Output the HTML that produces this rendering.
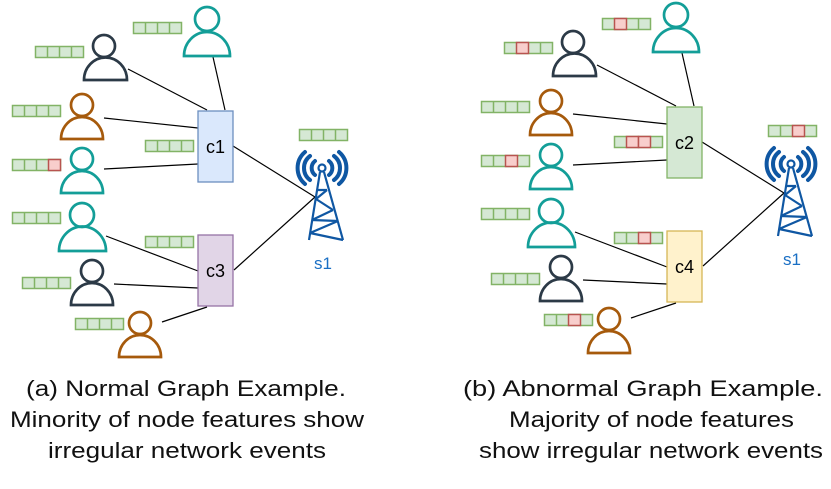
<!DOCTYPE html>
<html><head><meta charset="utf-8"><style>
html,body{margin:0;padding:0;background:#fff;}
svg{display:block;}
text{font-family:"Liberation Sans",sans-serif;}
</style></head><body>
<svg width="831" height="489" viewBox="0 0 831 489" xmlns="http://www.w3.org/2000/svg">
<defs>
<g id="tower" fill="none" stroke="#0f57a3">
 <circle cx="322" cy="168" r="3.5" stroke-width="2.2"/>
 <g stroke-width="4" stroke-linecap="round">
  <path d="M315,161 A9,9 0 0 0 315,175"/>
  <path d="M329,161 A9,9 0 0 1 329,175"/>
  <path d="M310,156 A15,15 0 0 0 310,180"/>
  <path d="M334,156 A15,15 0 0 1 334,180"/>
  <path d="M305,152 A21,21 0 0 0 305,184"/>
  <path d="M339,152 A21,21 0 0 1 339,184"/>
 </g>
 <g stroke-width="2.2">
  <path d="M320,172 L309,240 M324,172 L343,240"/>
  <path d="M318,190 L327,190 M316,199 L333,210 M327,190 L316,199 M312,220 L333,210 M312,220 L338,221 M310,233 L338,221 M310,233 L343,240"/>
 </g>
</g>
</defs>

<g>
<g stroke="#000" stroke-width="1.2">
 <line x1="128" y1="69" x2="207" y2="110"/>
 <line x1="213" y1="57" x2="225" y2="110"/>
 <line x1="104" y1="118" x2="198" y2="128"/>
 <line x1="104" y1="169" x2="198" y2="164"/>
 <line x1="106" y1="236" x2="198" y2="271"/>
 <line x1="114" y1="284" x2="198" y2="288"/>
 <line x1="162" y1="322" x2="207" y2="307"/>
 <line x1="233" y1="146" x2="315" y2="197"/>
 <line x1="234" y1="270" x2="315" y2="197"/>
</g>
<g fill="none" stroke-width="2.7">
 <g stroke="#139e98"><circle cx="207" cy="19" r="12"/><path d="M184,56 A23,24 0 0 1 230,56 Z"/></g>
 <g stroke="#2c3a47"><circle cx="104" cy="46" r="11"/><path d="M84,80 A21,22 0 0 1 127,80 Z"/></g>
 <g stroke="#a65a0c"><circle cx="82" cy="105" r="11"/><path d="M61,139 A21,22 0 0 1 103,139 Z"/></g>
 <g stroke="#139e98"><circle cx="82" cy="159" r="11"/><path d="M61,193 A21,22 0 0 1 103,193 Z"/></g>
 <g stroke="#139e98"><circle cx="82" cy="215" r="12"/><path d="M59,251 A23,24 0 0 1 106,251 Z"/></g>
 <g stroke="#2c3a47"><circle cx="92" cy="271" r="11"/><path d="M71,305 A21,22 0 0 1 113,305 Z"/></g>
 <g stroke="#a65a0c"><circle cx="140" cy="323" r="11"/><path d="M119,357 A21,22 0 0 1 161,357 Z"/></g>
</g>
<rect x="198" y="111" width="35" height="71" fill="#dae8fc" stroke="#6c8ebf" stroke-width="1.3"/>
<text x="215.5" y="153" font-size="18" text-anchor="middle">c1</text>
<rect x="198" y="235" width="35" height="71" fill="#e1d5e7" stroke="#9673a6" stroke-width="1.3"/>
<text x="215.5" y="277" font-size="18" text-anchor="middle">c3</text>
</g>

<g stroke-width="1.5">
<g fill="#d5e8d4" stroke="#82b366">
 <path d="M133.5,22.5h48v11h-48z M145.5,22.5v11 M157.5,22.5v11 M169.5,22.5v11"/>
 <path d="M35.5,46.5h48v11h-48z M47.5,46.5v11 M59.5,46.5v11 M71.5,46.5v11"/>
 <path d="M12.5,105.5h48v11h-48z M24.5,105.5v11 M36.5,105.5v11 M48.5,105.5v11"/>
 <path d="M145.5,140.5h48v11h-48z M157.5,140.5v11 M169.5,140.5v11 M181.5,140.5v11"/>
 <path d="M12.5,159.5h48v11h-48z M24.5,159.5v11 M36.5,159.5v11"/>
 <path d="M12.5,212.5h48v11h-48z M24.5,212.5v11 M36.5,212.5v11 M48.5,212.5v11"/>
 <path d="M145.5,236.5h48v11h-48z M157.5,236.5v11 M169.5,236.5v11 M181.5,236.5v11"/>
 <path d="M22.5,277.5h48v11h-48z M34.5,277.5v11 M46.5,277.5v11 M58.5,277.5v11"/>
 <path d="M75.5,318.5h48v11h-48z M87.5,318.5v11 M99.5,318.5v11 M111.5,318.5v11"/>
 <path d="M299.5,129.5h48v11h-48z M311.5,129.5v11 M323.5,129.5v11 M335.5,129.5v11"/>
</g>
<rect x="48.5" y="159.5" width="12" height="11" fill="#f8cecc" stroke="#b85450"/>
</g>
<use href="#tower"/>
<text x="323" y="269" font-size="17" fill="#1a6fc4" text-anchor="middle">s1</text>

<g transform="translate(469,-4)">
<g stroke="#000" stroke-width="1.2">
 <line x1="128" y1="69" x2="207" y2="110"/>
 <line x1="213" y1="57" x2="225" y2="110"/>
 <line x1="104" y1="118" x2="198" y2="128"/>
 <line x1="104" y1="169" x2="198" y2="164"/>
 <line x1="106" y1="236" x2="198" y2="271"/>
 <line x1="114" y1="284" x2="198" y2="288"/>
 <line x1="162" y1="322" x2="207" y2="307"/>
 <line x1="233" y1="146" x2="315" y2="197"/>
 <line x1="234" y1="270" x2="315" y2="197"/>
</g>
<g fill="none" stroke-width="2.7">
 <g stroke="#139e98"><circle cx="207" cy="19" r="12"/><path d="M184,56 A23,24 0 0 1 230,56 Z"/></g>
 <g stroke="#2c3a47"><circle cx="104" cy="46" r="11"/><path d="M84,80 A21,22 0 0 1 127,80 Z"/></g>
 <g stroke="#a65a0c"><circle cx="82" cy="105" r="11"/><path d="M61,139 A21,22 0 0 1 103,139 Z"/></g>
 <g stroke="#139e98"><circle cx="82" cy="159" r="11"/><path d="M61,193 A21,22 0 0 1 103,193 Z"/></g>
 <g stroke="#139e98"><circle cx="82" cy="215" r="12"/><path d="M59,251 A23,24 0 0 1 106,251 Z"/></g>
 <g stroke="#2c3a47"><circle cx="92" cy="271" r="11"/><path d="M71,305 A21,22 0 0 1 113,305 Z"/></g>
 <g stroke="#a65a0c"><circle cx="140" cy="323" r="11"/><path d="M119,357 A21,22 0 0 1 161,357 Z"/></g>
</g>
<rect x="198" y="111" width="35" height="71" fill="#d5e8d4" stroke="#82b366" stroke-width="1.3"/>
<text x="215.5" y="153" font-size="18" text-anchor="middle">c2</text>
<rect x="198" y="235" width="35" height="71" fill="#fff2cc" stroke="#d6b656" stroke-width="1.3"/>
<text x="215.5" y="277" font-size="18" text-anchor="middle">c4</text>
<g stroke-width="1.5">
<g fill="#d5e8d4" stroke="#82b366">
 <path d="M133.5,22.5h48v11h-48z M169.5,22.5v11"/>
 <path d="M35.5,46.5h48v11h-48z M71.5,46.5v11"/>
 <path d="M12.5,105.5h48v11h-48z M24.5,105.5v11 M36.5,105.5v11 M48.5,105.5v11"/>
 <path d="M145.5,140.5h48v11h-48z"/>
 <path d="M12.5,159.5h48v11h-48z M24.5,159.5v11"/>
 <path d="M12.5,212.5h48v11h-48z M24.5,212.5v11 M36.5,212.5v11 M48.5,212.5v11"/>
 <path d="M145.5,236.5h48v11h-48z M157.5,236.5v11"/>
 <path d="M22.5,277.5h48v11h-48z M34.5,277.5v11 M46.5,277.5v11 M58.5,277.5v11"/>
 <path d="M75.5,318.5h48v11h-48z M87.5,318.5v11"/>
 <path d="M299.5,129.5h48v11h-48z M311.5,129.5v11"/>
</g>
<g fill="#f8cecc" stroke="#b85450">
 <rect x="145.5" y="22.5" width="12" height="11"/>
 <rect x="47.5" y="46.5" width="12" height="11"/>
 <rect x="157.5" y="140.5" width="12" height="11"/>
 <rect x="169.5" y="140.5" width="12" height="11"/>
 <rect x="36.5" y="159.5" width="12" height="11"/>
 <rect x="169.5" y="236.5" width="12" height="11"/>
 <rect x="99.5" y="318.5" width="12" height="11"/>
 <rect x="323.5" y="129.5" width="12" height="11"/>
</g>
</g>
<use href="#tower"/>
<text x="323" y="269" font-size="17" fill="#1a6fc4" text-anchor="middle">s1</text>
</g>

<g font-size="22" fill="#111">
 <text x="26" y="396" textLength="320" lengthAdjust="spacingAndGlyphs">(a) Normal Graph Example.</text>
 <text x="10" y="427" textLength="354" lengthAdjust="spacingAndGlyphs">Minority of node features show</text>
 <text x="48" y="458" textLength="278" lengthAdjust="spacingAndGlyphs">irregular network events</text>
 <text x="463" y="396" textLength="360" lengthAdjust="spacingAndGlyphs">(b) Abnormal Graph Example.</text>
 <text x="509" y="427" textLength="285" lengthAdjust="spacingAndGlyphs">Majority of node features</text>
 <text x="479" y="458" textLength="344" lengthAdjust="spacingAndGlyphs">show irregular network events</text>
</g>
</svg>
</body></html>
